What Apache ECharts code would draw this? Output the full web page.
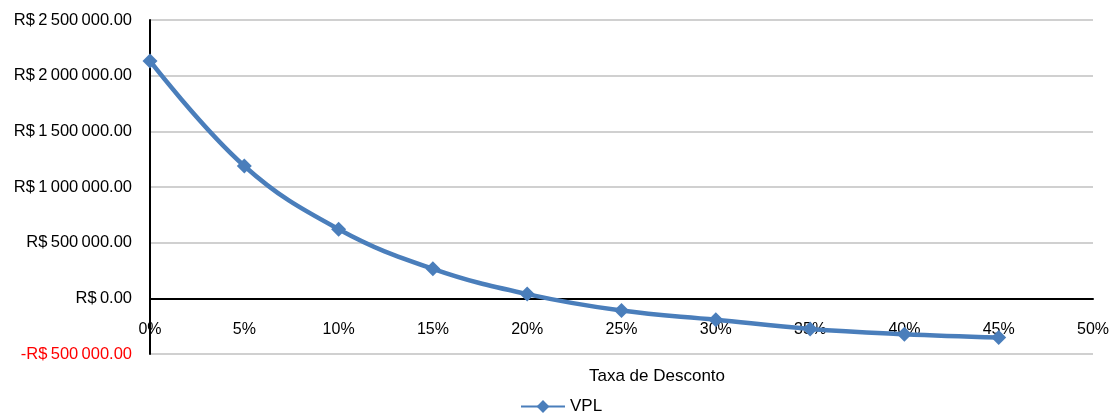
<!DOCTYPE html>
<html>
<head>
<meta charset="utf-8">
<script src="https://cdn.jsdelivr.net/npm/echarts@6/dist/echarts.min.js"></script>
<style>
  html, body { margin: 0; padding: 0; background: #fff; }
  #chart { width: 1113px; height: 414px; }
</style>
</head>
<body>
<div id="chart"></div>
<script>
// taxa de desconto (fração) e VPL
const taxas = [0, 0.05, 0.10, 0.15, 0.20, 0.25, 0.30, 0.35, 0.40, 0.45];
const vpl = [2132000, 1189000, 621000, 265000, 38000, -110000, -192000, -275000, -322000, -352000];
const seriesName = 'VPL';
const xTitle = 'Taxa de Desconto';

const fmtMoeda = (v) => {
  const abs = Math.abs(v);
  const inteiro = Math.floor(abs).toString().replace(/\B(?=(\d{3})+(?!\d))/g, '\u2009');
  return (v < 0 ? '-' : '') + 'R$\u2009' + inteiro + '.00';
};

const chart = echarts.init(document.getElementById('chart'));

const option = {
  animation: false,
  title: {
    text: xTitle,
    left: 652,
    top: 363,
    textAlign: 'center',
    textStyle: { fontFamily: 'Liberation Sans', fontSize: 17, fontWeight: 'normal', color: '#000' },
  },
  legend: {
    left: 515,
    top: 393,
    itemWidth: 44,
    itemHeight: 16,
    itemGap: 4,
    textStyle: { fontFamily: 'Liberation Sans', fontSize: 17, color: '#000' },
    data: [seriesName],
  },
  grid: {
    left: 150,
    right: 20,
    top: 20,
    bottom: 60,
  },
  xAxis: {
    type: 'value',
    min: 0,
    max: 0.5,
    interval: 0.05,
    axisLine: { onZero: true, lineStyle: { color: '#000', width: 2 } },
    axisTick: { show: false },
    splitLine: { show: false },
    axisLabel: {
      margin: -32,
      fontFamily: 'Liberation Sans',
      fontSize: 16,
      color: '#000',
      formatter: (v) => Math.round(v * 100) + '%',
    },
  },
  yAxis: {
    type: 'value',
    min: -500000,
    max: 2500000,
    interval: 500000,
    axisLine: { show: true, lineStyle: { color: '#000', width: 2 } },
    axisTick: { show: false },
    splitLine: { lineStyle: { color: '#c0c0c0', width: 1.5 } },
    axisLabel: {
      margin: 18,
      padding: [4, 0, 0, 0],
      fontFamily: 'Liberation Sans',
      fontSize: 16.5,
      color: (v) => (Number(v) < 0 ? '#ff0000' : '#000'),
      formatter: fmtMoeda,
    },
  },
  series: [
    {
      name: seriesName,
      type: 'line',
      smooth: 0.4,
      data: taxas.map((t, i) => [t, vpl[i]]),
      symbol: 'diamond',
      symbolSize: 15,
      itemStyle: { color: '#4a7ebb' },
      lineStyle: { color: '#4a7ebb', width: 4.5 },
      z: 3,
    },
  ],
};

option && chart.setOption(option);
</script>
</body>
</html>
